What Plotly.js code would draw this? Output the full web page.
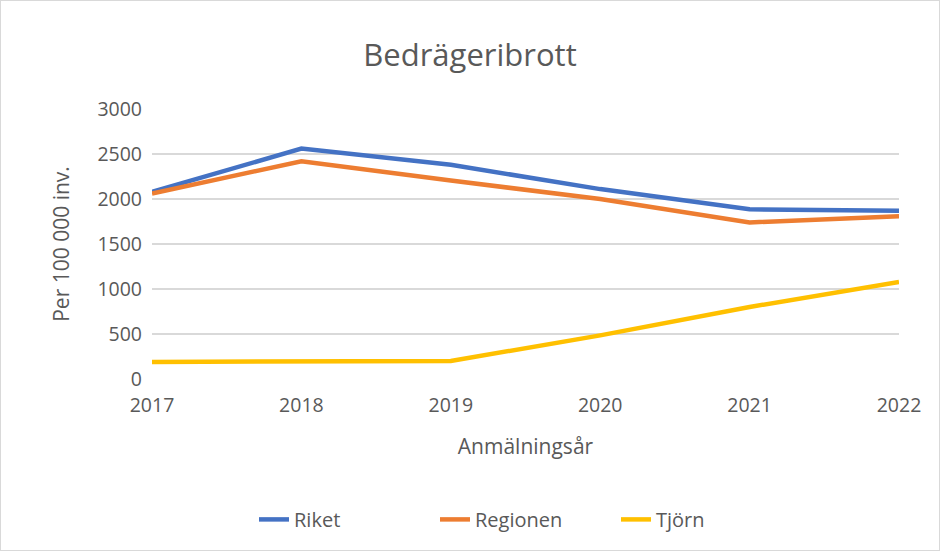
<!DOCTYPE html>
<html><head><meta charset="utf-8">
<script src="https://cdn.plot.ly/plotly-3.0.1.min.js"></script>
<style>
html,body{margin:0;padding:0;background:#fff;}
#wrap{position:relative;width:940px;height:551px;}
#chart{width:940px;height:551px;}
#frame{position:absolute;left:0;top:0;width:938px;height:549px;border:1px solid #d9d9d9;pointer-events:none;}
</style></head>
<body><div id="wrap"><div id="chart"></div><div id="frame"></div></div>
<script>
const years = [2017, 2018, 2019, 2020, 2021, 2022];
const riket = [2080, 2560, 2380, 2110, 1885, 1870];
const regionen = [2060, 2420, 2205, 2000, 1740, 1808];
const tjorn = [190, 195, 200, 485, 800, 1078];
const seriesNames = ['Riket', 'Regionen', 'Tjörn'];
const colors = ['#4472C4', '#ED7D31', '#FFC000'];
const yTicks = [0, 500, 1000, 1500, 2000, 2500, 3000];

const font = 'Open Sans, Noto Sans, sans-serif';
const data = [riket, regionen, tjorn].map((v, i) => ({
  x: years, y: v, name: seriesNames[i], type: 'scatter', mode: 'lines',
  line: {color: colors[i], width: 4.5}
}));

const layout = {
  width: 940, height: 551,
  margin: {l: 152, r: 41, t: 109, b: 172},
  paper_bgcolor: '#fff', plot_bgcolor: '#fff',
  font: {family: font, color: '#595959', size: 18},
  title: {text: 'Bedrägeribrott', font: {size: 31, color: '#595959', family: font}, x: 0.5, xanchor: 'center', y: 0.9, yanchor: 'middle'},
  xaxis: {
    range: [2017, 2022], tickvals: years, ticktext: years.map(String),
    showgrid: false, zeroline: false, showline: false, ticks: '', ticklabelstandoff: 12,
    tickfont: {size: 19.5},
    title: {text: 'Anmälningsår', font: {size: 21, color: '#595959'}, standoff: 22}
  },
  yaxis: {
    range: [0, 3000], tickvals: yTicks, showgrid: true, gridcolor: '#d9d9d9', gridwidth: 1.5,
    zeroline: false, showline: false, ticks: '', ticklabelstandoff: 9,
    tickfont: {size: 19.5},
    title: {text: 'Per 100 000 inv.', font: {size: 21, color: '#595959'}, standoff: 22}
  },
  legend: {orientation: 'h', x: 0.5, xanchor: 'center', y: -0.52, yanchor: 'middle', font: {size: 20}, entrywidth: 136},
  showlegend: true
};
Plotly.newPlot('chart', data, layout, {displayModeBar: false, staticPlot: true});
</script></body></html>
